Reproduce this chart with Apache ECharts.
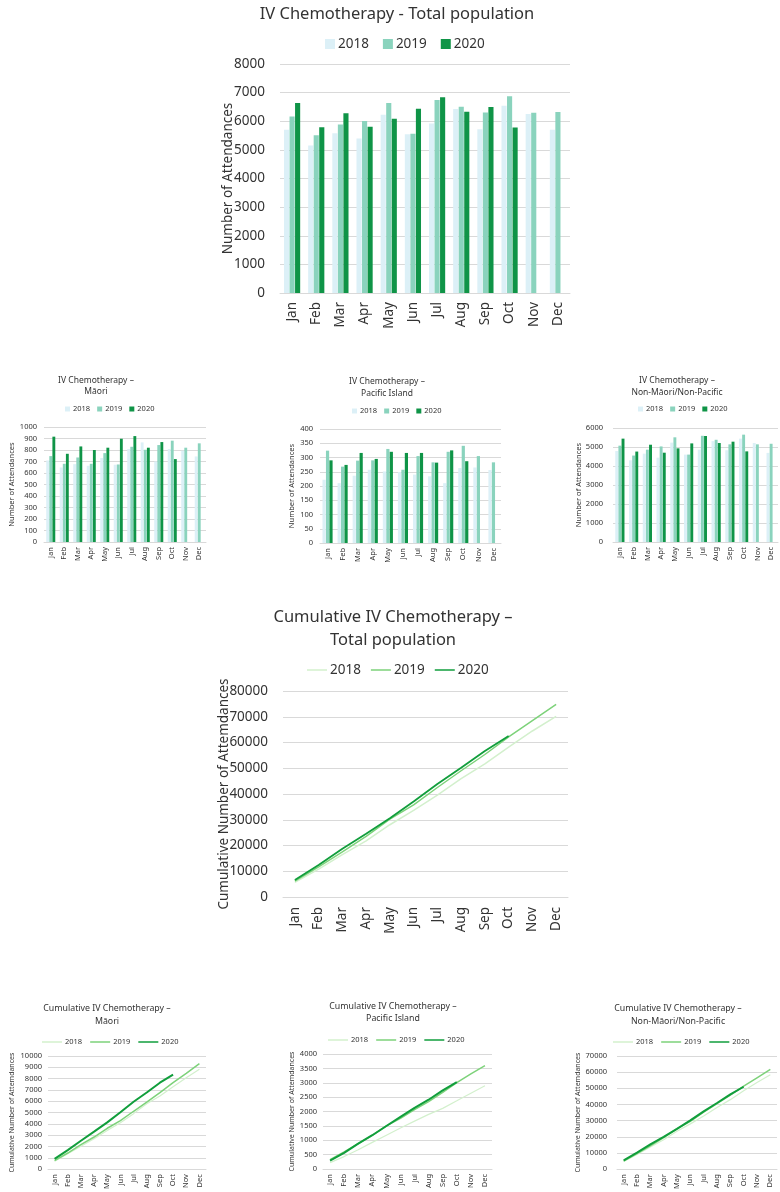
<!DOCTYPE html>
<html>
<head>
<meta charset="utf-8">
<script src="https://cdn.jsdelivr.net/npm/echarts@6/dist/echarts.min.js"></script>
<style>
html,body{margin:0;padding:0;background:#fff;}
body{width:780px;height:1192px;position:relative;overflow:hidden;}
.c{position:absolute;}
</style>
</head>
<body>
<div id="c1" class="c" style="left:0;top:0;width:780px;height:350px"></div>
<div id="c2" class="c" style="left:0;top:360px;width:260px;height:215px"></div>
<div id="c3" class="c" style="left:260px;top:360px;width:260px;height:215px"></div>
<div id="c4" class="c" style="left:520px;top:360px;width:260px;height:215px"></div>
<div id="c5" class="c" style="left:0;top:590px;width:780px;height:360px"></div>
<div id="c6" class="c" style="left:0;top:975px;width:260px;height:217px"></div>
<div id="c7" class="c" style="left:260px;top:975px;width:260px;height:217px"></div>
<div id="c8" class="c" style="left:520px;top:975px;width:260px;height:217px"></div>
<script>
const months = ['Jan','Feb','Mar','Apr','May','Jun','Jul','Aug','Sep','Oct','Nov','Dec'];
const years = ['2018','2019','2020'];

// Monthly attendances - Total population
const total2018 = [5700,5150,5580,5400,6230,5550,5920,6430,5720,6540,6250,5700];
const total2019 = [6170,5510,5890,6010,6640,5560,6740,6510,6310,6870,6300,6320];
const total2020 = [6640,5790,6280,5810,6090,6440,6840,6330,6500,5780];

// Monthly - Maori
const maori2018 = [709,648,677,663,730,672,808,866,700,808,794,744];
const maori2019 = [747,680,735,680,773,674,828,802,843,881,820,858];
const maori2020 = [916,767,831,800,820,898,921,820,869,721];

// Monthly - Pacific Island
const pac2018 = [222,210,236,257,251,249,240,234,210,263,265,256];
const pac2019 = [324,268,289,290,330,257,305,283,320,341,305,283];
const pac2020 = [290,274,316,295,320,316,316,282,325,287];

// Monthly - Non-Maori/Non-Pacific
const nmp2018 = [4790,4300,4650,4440,5230,4600,4860,5310,4830,5440,5210,4690];
const nmp2019 = [5070,4550,4860,5030,5510,4600,5590,5380,5140,5650,5140,5170];
const nmp2020 = [5440,4760,5120,4700,4930,5190,5580,5210,5280,4770];

// Cumulative - Total population
const cumTotal2018 = [5700,10850,16430,21830,28060,33610,39530,45960,51680,58220,64470,70170];
const cumTotal2019 = [6170,11680,17570,23580,30220,35780,42520,49030,55340,62210,68510,74830];
const cumTotal2020 = [6640,12430,18710,24520,30610,37050,43890,50220,56720,62500];

// Cumulative - Maori
const cumMaori2018 = [709,1357,2034,2697,3427,4099,4907,5773,6473,7281,8075,8819];
const cumMaori2019 = [747,1427,2162,2842,3615,4289,5117,5919,6762,7643,8463,9321];
const cumMaori2020 = [916,1683,2514,3314,4134,5032,5953,6773,7642,8363];

// Cumulative - Pacific Island
const cumPac2018 = [222,432,668,925,1176,1425,1665,1899,2109,2372,2637,2893];
const cumPac2019 = [324,592,881,1171,1501,1758,2063,2346,2666,3007,3312,3595];
const cumPac2020 = [290,564,880,1175,1495,1811,2127,2409,2734,3021];

// Cumulative - Non-Maori/Non-Pacific
const cumNmp2018 = [4790,9090,13740,18180,23410,28010,32870,38180,43010,48450,53660,58350];
const cumNmp2019 = [5070,9620,14480,19510,25020,29620,35210,40590,45730,51380,56520,61690];
const cumNmp2020 = [5440,10200,15320,20020,24950,30140,35720,40930,46210,50980];

const FONT = '"Noto Sans", "Open Sans", sans-serif';
const TXT = '#333333';
const barColors = ['#dcf0f7', '#8ad3bd', '#0f9447'];
const lineColors = ['#d3f0cd', '#7dd27a', '#119e3c'];

function baseOption(cfg, yName) {
  return {
    animation: false,
    textStyle: {fontFamily: FONT},
    title: {
      text: cfg.title, left: cfg.titleX, top: cfg.titleTop, textAlign: 'center',
      textStyle: {fontFamily: FONT, fontWeight: 'normal', color: TXT, fontSize: cfg.titleSize, lineHeight: cfg.titleLH}
    },
    legend: {
      data: years, left: cfg.legendX, top: cfg.legendTop, width: 400, orient: 'horizontal',
      icon: 'rect', itemWidth: cfg.legW, itemHeight: cfg.legH, itemGap: cfg.legGap,
      textStyle: {fontFamily: FONT, color: TXT, fontSize: cfg.legSize, padding: [0,0,0,-2]}
    },
    grid: {left: cfg.grid[0], top: cfg.grid[1], width: cfg.grid[2], height: cfg.grid[3], containLabel: false},
    xAxis: {
      type: 'category', data: months, boundaryGap: true,
      axisLine: {lineStyle: {color: '#d9d9d9'}},
      axisTick: {show: false},
      axisLabel: {rotate: 90, color: TXT, fontSize: cfg.xSize, fontFamily: FONT, margin: cfg.xMargin, interval: 0}
    },
    yAxis: {
      type: 'value', min: 0, max: cfg.max, interval: cfg.interval,
      name: yName, nameLocation: 'middle', nameGap: cfg.nameGap, nameMoveOverlap: false,
      nameTextStyle: {color: TXT, fontSize: cfg.nameSize, fontFamily: FONT},
      axisLine: {show: false}, axisTick: {show: false},
      axisLabel: {color: TXT, fontSize: cfg.ySize, fontFamily: FONT, margin: cfg.yMargin, formatter: v => String(v)},
      splitLine: {lineStyle: {color: '#d9d9d9'}}
    }
  };
}

function makeBar(id, cfg) {
  const ch = echarts.init(document.getElementById(id));
  const opt = baseOption(cfg, 'Number of Attendances');
  opt.series = years.map((y, i) => ({
    name: y, type: 'bar', data: cfg.data[i],
    itemStyle: {color: barColors[i]},
    barGap: '8%', barCategoryGap: cfg.catGap
  }));
  ch.setOption(opt);
}

function makeLine(id, cfg) {
  const ch = echarts.init(document.getElementById(id));
  const opt = baseOption(cfg, 'Cumulative Number of Attemdances');
  opt.series = years.map((y, i) => ({
    name: y, type: 'line', data: cfg.data[i], showSymbol: false, symbol: 'none',
    itemStyle: {color: lineColors[i]},
    lineStyle: {color: lineColors[i], width: cfg.widths[i]}
  }));
  ch.setOption(opt);
}

// Main total bar chart
makeBar('c1', {
  title: 'IV Chemotherapy - Total population', titleX: 392, titleTop: -1, titleSize: 16.5, titleLH: 20,
  legendX: 320, legendTop: 32, legW: 10, legH: 10, legGap: 14, legSize: 13.5,
  grid: [280, 64, 290, 229], max: 8000, interval: 1000,
  xSize: 13.5, xMargin: 9, ySize: 13.5, yMargin: 15, nameGap: 45, nameSize: 13.5,
  catGap: '33%', data: [total2018, total2019, total2020]
});

makeBar('c2', {
  title: 'IV Chemotherapy \u2013\nM\u0101ori', titleX: 91, titleTop: 10, titleSize: 8.5, titleLH: 11,
  legendX: 60, legendTop: 40, legW: 5, legH: 5, legGap: 7, legSize: 7.5,
  grid: [38, 67, 168, 115], max: 1000, interval: 100,
  xSize: 7.5, xMargin: 5, ySize: 7.5, yMargin: 7, nameGap: 28, nameSize: 7.5,
  catGap: '33%', data: [maori2018, maori2019, maori2020]
});

makeBar('c3', {
  title: 'IV Chemotherapy \u2013\nPacific Island', titleX: 122, titleTop: 11, titleSize: 8.5, titleLH: 12,
  legendX: 87, legendTop: 42, legW: 5, legH: 5, legGap: 7, legSize: 7.5,
  grid: [60, 69, 181, 114], max: 400, interval: 50,
  xSize: 7.5, xMargin: 5, ySize: 7.5, yMargin: 7, nameGap: 24, nameSize: 7.5,
  catGap: '33%', data: [pac2018, pac2019, pac2020]
});

makeBar('c4', {
  title: 'IV Chemotherapy \u2013\nNon-M\u0101ori/Non-Pacific', titleX: 152, titleTop: 10, titleSize: 8.5, titleLH: 12,
  legendX: 113, legendTop: 40, legW: 5, legH: 5, legGap: 7, legSize: 7.5,
  grid: [93, 68, 165, 114], max: 6000, interval: 1000,
  xSize: 7.5, xMargin: 5, ySize: 7.5, yMargin: 10, nameGap: 30, nameSize: 7.5,
  catGap: '33%', data: [nmp2018, nmp2019, nmp2020]
});

makeLine('c5', {
  title: 'Cumulative IV Chemotherapy \u2013\nTotal population', titleX: 388, titleTop: 11, titleSize: 16.5, titleLH: 23,
  legendX: 302, legendTop: 68, legW: 20, legH: 1.5, legGap: 10, legSize: 13.5,
  grid: [283, 101, 285, 206], max: 80000, interval: 10000,
  xSize: 13.5, xMargin: 10, ySize: 13.5, yMargin: 15, nameGap: 52, nameSize: 13.5,
  widths: [1.5, 1.5, 1.8], data: [cumTotal2018, cumTotal2019, cumTotal2020]
});

makeLine('c6', {
  title: 'Cumulative IV Chemotherapy \u2013\nM\u0101ori', titleX: 102, titleTop: 22, titleSize: 8.8, titleLH: 13,
  legendX: 37, legendTop: 58, legW: 20, legH: 1.5, legGap: 8, legSize: 7.5,
  grid: [42, 81, 164, 114], max: 10000, interval: 1000,
  xSize: 7.5, xMargin: 5, ySize: 7.5, yMargin: 6, nameGap: 33, nameSize: 7,
  widths: [1.2, 1.5, 2], data: [cumMaori2018, cumMaori2019, cumMaori2020]
});

makeLine('c7', {
  title: 'Cumulative IV Chemotherapy \u2013\nPacific Island', titleX: 128, titleTop: 20, titleSize: 8.8, titleLH: 12,
  legendX: 63, legendTop: 56, legW: 20, legH: 1.5, legGap: 8, legSize: 7.5,
  grid: [63, 79, 169, 115], max: 4000, interval: 500,
  xSize: 7.5, xMargin: 5, ySize: 7.5, yMargin: 6, nameGap: 28, nameSize: 7,
  widths: [1.2, 1.5, 2], data: [cumPac2018, cumPac2019, cumPac2020]
});

makeLine('c8', {
  title: 'Cumulative IV Chemotherapy \u2013\nNon-M\u0101ori/Non-Pacific', titleX: 153, titleTop: 22, titleSize: 8.8, titleLH: 13,
  legendX: 88, legendTop: 58, legW: 20, legH: 1.5, legGap: 8, legSize: 7.5,
  grid: [97, 81, 160, 114], max: 70000, interval: 10000,
  xSize: 7.5, xMargin: 5, ySize: 7.5, yMargin: 10, nameGap: 36, nameSize: 7,
  widths: [1.2, 1.5, 2], data: [cumNmp2018, cumNmp2019, cumNmp2020]
});
</script>
</body>
</html>
